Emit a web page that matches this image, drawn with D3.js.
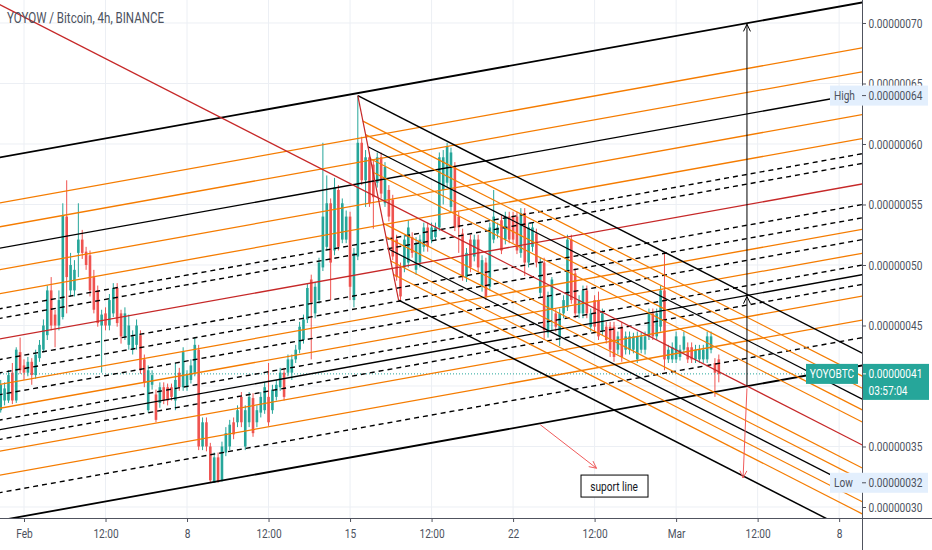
<!DOCTYPE html>
<html>
<head>
<meta charset="utf-8">
<script src="https://cdn.jsdelivr.net/npm/d3@7"></script>
<style>
  html, body { margin: 0; padding: 0; background: #fff; }
  svg { display: block; font-family: Roboto, "Noto Sans", sans-serif; }
</style>
</head>
<body>
<svg id="chart" width="932" height="550"></svg>
<script>
// ---- data ----
const title = "YOYOW / Bitcoin, 4h, BINANCE";
const firstBar = "2019-01-31T00:00:00Z";
const barHours = 4;
// [open, high, low, close] in satoshi (1e-8 BTC)
const candles = [
  [38.0,40.5,37.8,40.1],[38.8,40.3,38.4,39.8],[38.8,41.3,38.6,40.9],[41.1,41.9,38.5,38.8],[38.8,43.2,38.6,43.0],
  [42.8,44.0,41.0,41.3],[41.7,42.2,40.5,41.1],[41.1,42.4,40.8,42.0],[42.0,42.3,40.1,40.9],[40.9,43.0,40.6,42.6],
  [42.3,43.8,42.0,43.4],[43.0,45.5,42.8,45.0],[44.2,48.3,43.8,47.9],[47.9,49.0,44.6,45.0],[45.9,46.3,43.2,45.0],
  [45.0,47.9,44.6,47.1],[45.7,55.1,45.5,54.1],[54.0,57.0,46.0,49.0],[47.9,51.0,47.4,50.0],[47.9,50.4,47.4,49.6],
  [51.0,55.1,49.0,52.1],[52.1,52.9,50.5,51.0],[51.1,51.5,49.6,50.0],[50.8,51.2,47.4,47.9],[49.0,49.6,46.0,46.3],
  [47.9,48.3,44.9,45.2],[45.0,46.3,41.1,45.9],[46.0,46.5,44.6,45.0],[45.0,47.6,44.6,47.1],[46.0,48.5,45.7,48.1],
  [48.1,48.5,44.9,45.2],[46.0,46.3,43.5,44.1],[44.1,46.5,43.8,46.0],[43.4,45.9,43.0,45.0],[43.0,44.6,42.6,44.1],
  [43.4,45.5,43.0,45.0],[44.2,44.6,41.0,41.3],[42.2,42.6,39.9,40.3],[38.0,41.7,37.8,41.3],[40.1,41.3,39.7,40.9],
  [39.3,39.7,37.0,37.2],[38.6,40.3,38.2,39.9],[39.9,40.3,38.5,38.8],[39.9,40.2,38.4,38.8],[39.9,40.2,38.8,39.1],
  [38.8,41.9,38.0,40.5],[41.1,41.5,39.6,39.9],[39.9,43.2,39.6,42.8],[39.9,41.3,39.6,40.9],[40.5,42.2,40.2,41.7],
  [41.1,44.0,40.8,43.4],[43.0,43.4,34.7,35.0],[35.0,37.4,34.7,37.0],[37.0,37.4,34.6,35.0],[35.0,35.3,32.0,32.2],
  [32.0,34.5,32.0,34.1],[34.1,34.5,32.0,32.1],[32.2,35.4,32.1,35.0],[34.5,36.6,34.2,36.1],[35.0,37.2,34.7,36.8],
  [37.0,37.4,35.6,36.0],[37.0,38.4,36.6,38.0],[39.1,39.5,36.6,37.0],[35.0,38.4,34.7,38.0],[37.0,39.5,36.6,39.1],
  [39.0,39.4,35.8,36.1],[37.0,38.4,36.6,38.0],[37.8,39.5,37.4,39.1],[38.0,40.3,37.7,39.9],[39.1,41.9,36.7,37.0],
  [38.0,40.1,37.7,39.7],[39.1,40.5,38.8,40.1],[39.9,41.5,39.6,41.1],[41.1,41.5,38.8,39.1],[41.1,42.6,40.8,42.2],
  [41.1,42.6,40.5,42.2],[42.2,43.4,41.9,43.0],[43.0,45.3,42.7,44.9],[43.8,45.9,43.5,45.5],[45.5,48.5,45.2,48.1],
  [48.8,49.2,42.2,46.9],[46.0,48.6,45.6,48.2],[47.1,50.6,46.8,50.2],[49.8,60.1,49.5,54.0],[51.5,57.4,51.2,55.1],
  [55.1,55.5,47.1,50.2],[51.2,57.2,50.8,56.4],[56.2,56.6,51.2,51.5],[52.1,55.5,51.8,55.1],[52.1,54.5,51.8,54.0],
  [54.0,54.4,47.1,48.2],[47.1,51.4,46.5,51.0],[50.7,64.0,50.4,60.1],[60.1,60.6,56.6,57.0],[57.0,59.5,54.8,58.9],
  [58.9,59.3,54.8,55.1],[58.3,58.7,53.0,55.6],[56.8,59.3,56.4,58.9],[58.9,59.3,55.5,55.9],[55.1,58.5,54.8,58.1],
  [56.2,56.6,53.6,54.0],[55.4,55.8,50.4,50.7],[52.1,52.5,48.7,49.0],[49.8,50.2,47.1,47.4],[49.8,52.5,49.4,52.1],
  [50.2,53.7,49.8,53.1],[52.3,52.7,50.6,51.0],[49.6,52.3,49.2,51.8],[50.2,52.5,49.8,52.1],[51.5,53.5,51.1,53.1],
  [53.1,53.5,51.1,51.5],[52.1,53.5,51.8,53.1],[52.3,53.5,52.0,53.1],[53.1,59.3,52.8,58.9],[56.2,59.5,55.0,58.9],
  [56.8,60.1,56.4,59.8],[54.8,59.7,54.4,59.3],[58.1,58.5,52.8,53.1],[54.0,54.4,51.0,53.1],[52.6,53.0,48.7,49.0],
  [49.0,51.4,48.6,51.0],[52.1,52.5,49.4,49.8],[50.7,52.5,50.3,52.1],[52.1,52.5,49.4,49.8],[48.2,50.8,47.8,50.4],
  [50.2,50.6,47.1,47.4],[48.2,53.5,47.9,53.1],[52.1,56.2,51.8,54.0],[52.6,53.5,52.2,53.1],[53.7,54.1,50.9,51.2],
  [52.1,54.4,51.7,54.0],[54.0,54.4,51.8,52.1],[54.0,54.4,51.8,52.1],[54.0,54.4,50.9,51.2],[51.0,54.7,50.6,54.3],
  [54.3,54.7,49.1,50.2],[50.2,53.5,49.8,53.1],[51.5,53.5,51.1,53.1],[52.6,53.0,49.8,50.2],[47.7,50.6,47.3,50.2],
  [50.2,50.6,43.8,44.6],[44.4,47.8,44.0,47.4],[46.3,49.0,44.6,48.8],[46.0,46.4,44.5,44.9],[44.1,46.4,43.3,46.0],
  [46.0,47.5,45.6,47.1],[46.5,52.5,46.2,52.1],[52.1,52.5,46.8,47.1],[49.3,49.7,45.6,46.0],[46.0,47.5,45.6,47.1],
  [46.0,48.3,45.6,47.9],[47.9,48.3,45.6,46.0],[44.9,46.4,44.5,46.0],[47.1,47.5,44.5,44.9],[47.1,47.8,43.8,44.1],
  [44.6,46.4,44.2,46.0],[44.9,45.3,43.5,43.8],[44.9,45.3,42.4,43.0],[44.9,45.3,42.0,42.4],[43.0,44.5,42.6,44.1],
  [44.9,45.3,42.0,42.4],[43.0,44.5,42.6,44.1],[43.0,44.5,42.6,44.1],[43.0,44.4,42.7,44.1],[42.2,44.5,41.9,44.1],
  [43.0,44.4,42.7,44.1],[43.0,44.5,42.6,44.1],[44.1,46.4,43.8,46.0],[46.0,46.4,43.8,44.1],[44.1,46.4,43.8,46.0],
  [44.9,48.3,44.5,47.9],[47.9,51.0,41.3,42.2],[42.2,43.4,41.9,43.0],[42.2,43.6,41.9,43.2],[42.2,44.5,41.9,44.1],
  [42.4,43.4,42.1,43.0],[43.0,44.5,42.7,44.1],[43.2,43.6,41.9,42.2],[43.2,43.6,41.9,42.2],[42.2,43.4,41.9,43.0],
  [42.2,43.4,41.9,43.0],[42.2,43.4,41.9,43.0],[42.2,44.5,41.9,44.1],[43.0,44.5,42.7,44.1],[41.9,42.3,39.1,41.1],
  [42.2,42.6,40.3,41.0]
];

// 40 sits under the last-price label, so only its grid line shows
const priceTicks = [30, 35, 40, 45, 50, 55, 60, 65, 70];
const priceTickLabels = [30, 35, 45, 50, 55, 60, 65, 70];
const timeTicks = [
  ["2019-02-01T00:00:00Z", "Feb"], ["2019-02-04T12:00:00Z", "12:00"],
  ["2019-02-08T00:00:00Z", "8"], ["2019-02-11T12:00:00Z", "12:00"],
  ["2019-02-15T00:00:00Z", "15"], ["2019-02-18T12:00:00Z", "12:00"],
  ["2019-02-22T00:00:00Z", "22"], ["2019-02-25T12:00:00Z", "12:00"],
  ["2019-03-01T00:00:00Z", "Mar"], ["2019-03-04T12:00:00Z", "12:00"],
  ["2019-03-08T00:00:00Z", "8"]
];
const timeDomain = ["2019-01-30T23:16:00Z", "2019-03-08T23:33:00Z"];
const priceDomain = [29.09, 71.9];

// pitchfork levels (same settings on both forks)
const forkLevels = [0.25, 0.382, 0.5, 0.618, 0.75, 1];
const forkLevelColors = ["#f57c00", "#f57c00", "#000000", "#f57c00", "#f57c00", "#000000"];

// rising fork: median price on two dates and half width (price)
const upMedian = [["2019-01-31T00:00:00Z", 43.9], ["2019-03-09T00:00:00Z", 56.7]];
const upHalfWidth = 15.0;
// dashed parallel lines: price on the same two dates
const dashedLines = [
  [46.4, 59.2], [45.6, 58.4], [42.2, 55.0], [41.1, 53.9],
  [39.3, 52.1], [37.2, 50.0], [35.6, 48.4], [31.2, 44.0]
];

// falling fork: pivot, A, B
const downPivot = ["2019-01-29T06:00:00Z", 73.2];
const downA = ["2019-02-15T08:00:00Z", 64.0];
const downB = ["2019-02-17T02:00:00Z", 47.1];

const arrows = [
  { color: "#000000", from: ["2019-03-04T01:00:00Z", 39.9], to: ["2019-03-04T01:00:00Z", 47.4] },
  { color: "#000000", from: ["2019-03-04T01:00:00Z", 47.4], to: ["2019-03-04T01:00:00Z", 69.9] },
  { color: "#f05b5b", from: ["2019-03-04T01:00:00Z", 39.8], to: ["2019-03-03T21:00:00Z", 32.4] },
  { color: "#f05b5b", from: ["2019-02-23T04:00:00Z", 36.8], to: ["2019-02-25T14:00:00Z", 33.2] }
];
const note = { text: "suport line", at: ["2019-02-26T08:00:00Z", 31.73] };
const highPrice = 64, lowPrice = 32;
const symbol = "YOYOBTC", countdown = "03:57:04";

// ---- setup ----
const svg = d3.select("#chart");
const plotW = 862, plotH = 518;
const green = "#26a69a", red = "#ef5350", forkRed = "#c62828", textGray = "#4c525e";
const squeeze = 0.78; // screenshot text is horizontally narrow

const x = d3.scaleUtc().domain(timeDomain.map(d => new Date(d))).range([0, plotW]);
const y = d3.scaleLinear().domain(priceDomain).range([plotH, 0]);
const ms = d => new Date(d).getTime();
const fmtPrice = v => (v * 1e-8).toFixed(8);

svg.append("defs").append("clipPath").attr("id", "plot")
  .append("rect").attr("width", plotW).attr("height", plotH);

// grid
const grid = svg.append("g");
grid.selectAll("line.v").data(timeTicks).enter().append("line")
  .attr("x1", d => x(new Date(d[0]))).attr("x2", d => x(new Date(d[0])))
  .attr("y1", 0).attr("y2", plotH).attr("stroke", "#eceff4");
grid.selectAll("line.h").data(priceTicks).enter().append("line")
  .attr("x1", 0).attr("x2", plotW).attr("y1", d => y(d)).attr("y2", d => y(d))
  .attr("stroke", "#eceff4");

const plot = svg.append("g").attr("clip-path", "url(#plot)");

// candles
const barTime = i => new Date(ms(firstBar) + i * barHours * 3600e3);
const bars = plot.append("g").selectAll("g").data(candles).enter().append("g");
bars.append("line")
  .attr("x1", (d, i) => x(barTime(i))).attr("x2", (d, i) => x(barTime(i)))
  .attr("y1", d => y(d[1])).attr("y2", d => y(d[2]))
  .attr("stroke", d => d[3] >= d[0] ? green : red).attr("stroke-width", 1);
bars.append("rect")
  .attr("x", (d, i) => x(barTime(i)) - 1.3).attr("width", 2.6)
  .attr("y", d => y(Math.max(d[0], d[3])))
  .attr("height", d => Math.max(1, Math.abs(y(d[0]) - y(d[3]))))
  .attr("fill", d => d[3] >= d[0] ? green : red);

// last price dotted line
const lastClose = candles[candles.length - 1][3];
plot.append("line").attr("x1", 0).attr("x2", 806)
  .attr("y1", y(lastClose)).attr("y2", y(lastClose))
  .attr("stroke", green).attr("stroke-dasharray", "1,2");

// rising fork
const lines = plot.append("g").attr("fill", "none");
const tL = x.invert(-20).getTime(), tR = x.invert(plotW + 20).getTime();
const t1 = ms(upMedian[0][0]), t2 = ms(upMedian[1][0]);
const upAt = (t, p1, p2) => p1 + (p2 - p1) * (t - t1) / (t2 - t1);
function upLine(p1, p2, color, width, dash) {
  lines.append("line")
    .attr("x1", x(new Date(tL))).attr("y1", y(upAt(tL, p1, p2)))
    .attr("x2", x(new Date(tR))).attr("y2", y(upAt(tR, p1, p2)))
    .attr("stroke", color).attr("stroke-width", width)
    .attr("stroke-dasharray", dash || null);
}
dashedLines.forEach(d => upLine(d[0], d[1], "#000", 1.4, "5,4"));
forkLevels.forEach((lv, k) => {
  [1, -1].forEach(s => {
    const off = s * lv * upHalfWidth;
    upLine(upMedian[0][1] + off, upMedian[1][1] + off, forkLevelColors[k], lv === 1 ? 1.8 : 1.3);
  });
});
upLine(upMedian[0][1], upMedian[1][1], forkRed, 1.3);

// falling fork
const P0 = { t: ms(downPivot[0]), p: downPivot[1] };
const A = { t: ms(downA[0]), p: downA[1] };
const B = { t: ms(downB[0]), p: downB[1] };
const M = { t: (A.t + B.t) / 2, p: (A.p + B.p) / 2 };
const dir = { t: M.t - P0.t, p: M.p - P0.p };
function seg(a, b, color, width) {
  lines.append("line")
    .attr("x1", x(new Date(a.t))).attr("y1", y(a.p))
    .attr("x2", x(new Date(b.t))).attr("y2", y(b.p))
    .attr("stroke", color).attr("stroke-width", width);
}
const far = s => ({ t: s.t + 3 * dir.t, p: s.p + 3 * dir.p });
forkLevels.forEach((lv, k) => {
  [-1, 1].forEach(s => {
    const f = 0.5 + s * lv / 2;
    const start = { t: A.t + f * (B.t - A.t), p: A.p + f * (B.p - A.p) };
    seg(start, far(start), forkLevelColors[k], lv === 1 ? 1.5 : 1.2);
  });
});
seg(A, B, forkRed, 1.2);
seg(P0, far(M), forkRed, 1.3);

// arrows
const arrowG = plot.append("g").attr("fill", "none");
arrows.forEach(a => {
  const x1 = x(new Date(a.from[0])), y1 = y(a.from[1]);
  const x2 = x(new Date(a.to[0])), y2 = y(a.to[1]);
  const ang = Math.atan2(y2 - y1, x2 - x1), len = 8, spread = 0.45;
  arrowG.append("line").attr("x1", x1).attr("y1", y1).attr("x2", x2).attr("y2", y2)
    .attr("stroke", a.color).attr("stroke-width", 1);
  const p = d3.path();
  p.moveTo(x2 - len * Math.cos(ang - spread), y2 - len * Math.sin(ang - spread));
  p.lineTo(x2, y2);
  p.lineTo(x2 - len * Math.cos(ang + spread), y2 - len * Math.sin(ang + spread));
  arrowG.append("path").attr("d", p.toString()).attr("stroke", a.color).attr("stroke-width", 1);
});

// note box
const nx = x(new Date(note.at[0])), ny = y(note.at[1]);
svg.append("rect").attr("x", nx - 33).attr("y", ny - 11).attr("width", 67).attr("height", 22)
  .attr("fill", "#fff").attr("stroke", "#000").attr("stroke-width", 1);
svg.append("text").attr("transform", `translate(${nx},${ny + 4.5}) scale(${squeeze},1)`)
  .attr("text-anchor", "middle").attr("font-size", 13).attr("fill", "#131722").text(note.text);

// title
svg.append("text").attr("x", 7).attr("y", 23).attr("font-size", 14)
  .attr("textLength", 157).attr("lengthAdjust", "spacingAndGlyphs")
  .attr("fill", textGray).text(title);

// axes
const xAxis = svg.append("g").attr("transform", `translate(0,${plotH})`)
  .call(d3.axisBottom(x).tickValues(timeTicks.map(d => new Date(d[0])))
    .tickFormat((d, i) => timeTicks[i][1]).tickSize(4).tickSizeOuter(0).tickPadding(7));
xAxis.select(".domain").attr("d", `M0,0.5H932`).attr("stroke", "#50535e");
xAxis.selectAll(".tick line").attr("stroke", "#50535e");
xAxis.selectAll(".tick text").attr("font-size", 13).attr("fill", textGray)
  .attr("font-family", "Roboto").attr("transform", `scale(${squeeze},1)`);

const yAxis = svg.append("g").attr("transform", `translate(${plotW},0)`)
  .call(d3.axisRight(y).tickValues(priceTickLabels).tickFormat(fmtPrice).tickSize(4).tickSizeOuter(0));
yAxis.select(".domain").attr("d", `M0.5,0V${plotH + 32}`).attr("stroke", "#50535e");
yAxis.selectAll(".tick line").attr("stroke", "#50535e");
yAxis.selectAll(".tick text").attr("font-size", 13).attr("fill", textGray)
  .attr("font-family", "Roboto").attr("x", 8.3).attr("transform", `scale(${squeeze},1)`);

// high / low markers
function marker(price, name) {
  const cy = y(price);
  svg.append("rect").attr("x", 830).attr("y", cy - 10).attr("width", 98).attr("height", 20)
    .attr("fill", "#e3effd");
  svg.append("text").attr("transform", `translate(834,${cy + 4.5}) scale(${squeeze},1)`)
    .attr("font-size", 13).attr("fill", textGray).text(name);
  svg.append("line").attr("x1", plotW).attr("x2", plotW + 4).attr("y1", cy).attr("y2", cy)
    .attr("stroke", "#50535e");
  svg.append("text").attr("transform", `translate(868.5,${cy + 4.5}) scale(${squeeze},1)`)
    .attr("font-size", 13).attr("fill", textGray).text(fmtPrice(price));
}
marker(highPrice, "High");
marker(lowPrice, "Low");

// last price labels
const ly = y(lastClose);
svg.append("rect").attr("x", 806).attr("y", ly - 10).attr("width", 52).attr("height", 20)
  .attr("fill", green);
svg.append("text").attr("transform", `translate(832,${ly + 4.5}) scale(${squeeze},1)`)
  .attr("text-anchor", "middle").attr("font-size", 13).attr("fill", "#fff").text(symbol);
svg.append("rect").attr("x", plotW + 1).attr("y", ly - 10).attr("width", 66).attr("height", 36)
  .attr("fill", green);
svg.append("line").attr("x1", plotW + 1).attr("x2", plotW + 4).attr("y1", ly).attr("y2", ly)
  .attr("stroke", "#fff");
svg.append("text").attr("transform", `translate(868.5,${ly + 4.5}) scale(${squeeze},1)`)
  .attr("font-size", 13).attr("fill", "#fff").text(fmtPrice(lastClose));
svg.append("text").attr("transform", `translate(868.5,${ly + 21}) scale(${squeeze},1)`)
  .attr("font-size", 13).attr("fill", "#fff").text(countdown);
</script>
</body>
</html>
